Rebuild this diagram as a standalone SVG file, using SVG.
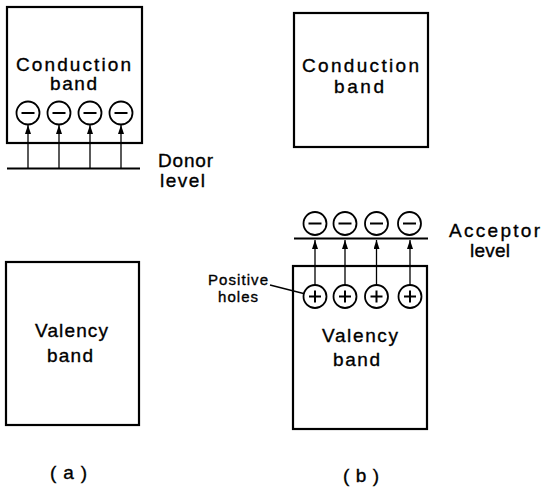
<svg xmlns="http://www.w3.org/2000/svg" width="541" height="490" viewBox="0 0 541 490">
<style>
  .band { fill: #fff; stroke: #000; stroke-width: 2.2; }
  .lvl { stroke: #000; stroke-width: 2; }
  .ptc { fill: #fff; stroke: #000; stroke-width: 1.8; }
  .sign { stroke: #000; stroke-width: 2; fill: none; }
  .arr { stroke: #000; stroke-width: 1.3; fill: none; }
  .t { font-family: "Liberation Sans", Arial, sans-serif; font-size: 19px; fill: #000; stroke: #000; stroke-width: 0.35; }
  .s { font-size: 15px; }
</style>
<defs>
  <marker id="ah" markerUnits="userSpaceOnUse" markerWidth="9" markerHeight="6" refX="9" refY="3" orient="auto">
    <path d="M0,0 L9,3 L0,6 z" fill="#000"/>
  </marker>
  <g id="minus"><circle class="ptc" r="11.5"/><line class="sign" x1="-6.5" y1="0" x2="6.5" y2="0"/></g>
  <g id="plus"><circle class="ptc" r="11.5"/><line class="sign" x1="-6" y1="0" x2="6" y2="0"/><line class="sign" x1="0" y1="-6" x2="0" y2="6"/></g>
</defs>
<rect width="541" height="490" fill="#fff"/>

<!-- (a) -->
<g id="conduction-band-a">
  <rect class="band" x="7" y="7" width="135" height="136"/>
  <text class="t" x="16" y="71" textLength="115" lengthAdjust="spacing">Conduction</text>
  <text class="t" x="50" y="90" textLength="47" lengthAdjust="spacing">band</text>
</g>
<g id="donor-level">
  <line class="lvl" x1="7" y1="168.5" x2="140" y2="168.5"/>
  <text class="t" x="158" y="167" textLength="55" lengthAdjust="spacing">Donor</text>
  <text class="t" x="160" y="187" textLength="45" lengthAdjust="spacing">level</text>
</g>
<g id="electrons-a">
  <use href="#minus" x="28" y="113"/>
  <use href="#minus" x="59" y="113"/>
  <use href="#minus" x="90" y="113"/>
  <use href="#minus" x="121" y="113"/>
</g>
<g id="valency-band-a">
  <rect class="band" x="6" y="262" width="133" height="163"/>
  <text class="t" x="35" y="337" textLength="73" lengthAdjust="spacing">Valency</text>
  <text class="t" x="47" y="362" textLength="46" lengthAdjust="spacing">band</text>
</g>
<g id="caption-a">
  <text class="t" x="50" y="479" textLength="37" lengthAdjust="spacing">(a)</text>
</g>

<!-- (b) -->
<g id="conduction-band-b">
  <rect class="band" x="294" y="13" width="134" height="134"/>
  <text class="t" x="302" y="72" textLength="117" lengthAdjust="spacing">Conduction</text>
  <text class="t" x="334" y="93" textLength="50" lengthAdjust="spacing">band</text>
</g>
<g id="acceptor-level">
  <line class="lvl" x1="294" y1="238.5" x2="428" y2="238.5"/>
  <text class="t" x="449" y="237" textLength="91" lengthAdjust="spacing">Acceptor</text>
  <text class="t" x="470" y="257" textLength="40" lengthAdjust="spacing">level</text>
</g>
<g id="electrons-b">
  <use href="#minus" x="315" y="223.5"/>
  <use href="#minus" x="345" y="223.5"/>
  <use href="#minus" x="376.5" y="223.5"/>
  <use href="#minus" x="409.5" y="223.5"/>
</g>
<g id="valency-band-b">
  <rect class="band" x="293" y="266" width="134" height="163"/>
  <text class="t" x="322" y="342" textLength="76" lengthAdjust="spacing">Valency</text>
  <text class="t" x="333" y="366" textLength="47" lengthAdjust="spacing">band</text>
</g>
<g id="holes-b">
  <use href="#plus" x="315" y="296.5"/>
  <use href="#plus" x="345" y="296.5"/>
  <use href="#plus" x="376.5" y="296.5"/>
  <use href="#plus" x="410" y="296.5"/>
</g>
<g id="positive-holes-label">
  <text class="t s" x="208" y="285" textLength="60" lengthAdjust="spacing">Positive</text>
  <text class="t s" x="218" y="302" textLength="40" lengthAdjust="spacing">holes</text>
</g>
<g id="caption-b">
  <text class="t" x="343" y="482" textLength="36" lengthAdjust="spacing">(b)</text>
</g>

<!-- connectors -->
<g id="connectors">
  <line class="arr" x1="28" y1="168" x2="28" y2="125" marker-end="url(#ah)"/>
  <line class="arr" x1="59" y1="168" x2="59" y2="125" marker-end="url(#ah)"/>
  <line class="arr" x1="90" y1="168" x2="90" y2="125" marker-end="url(#ah)"/>
  <line class="arr" x1="121" y1="168" x2="121" y2="125" marker-end="url(#ah)"/>
  <line class="arr" x1="315" y1="285" x2="315" y2="240" marker-end="url(#ah)"/>
  <line class="arr" x1="345" y1="285" x2="345" y2="240" marker-end="url(#ah)"/>
  <line class="arr" x1="376.5" y1="285" x2="376.5" y2="240" marker-end="url(#ah)"/>
  <line class="arr" x1="410" y1="285" x2="410" y2="240" marker-end="url(#ah)"/>
  <line class="arr" x1="270" y1="285" x2="303.5" y2="293.5"/>
</g>
</svg>
